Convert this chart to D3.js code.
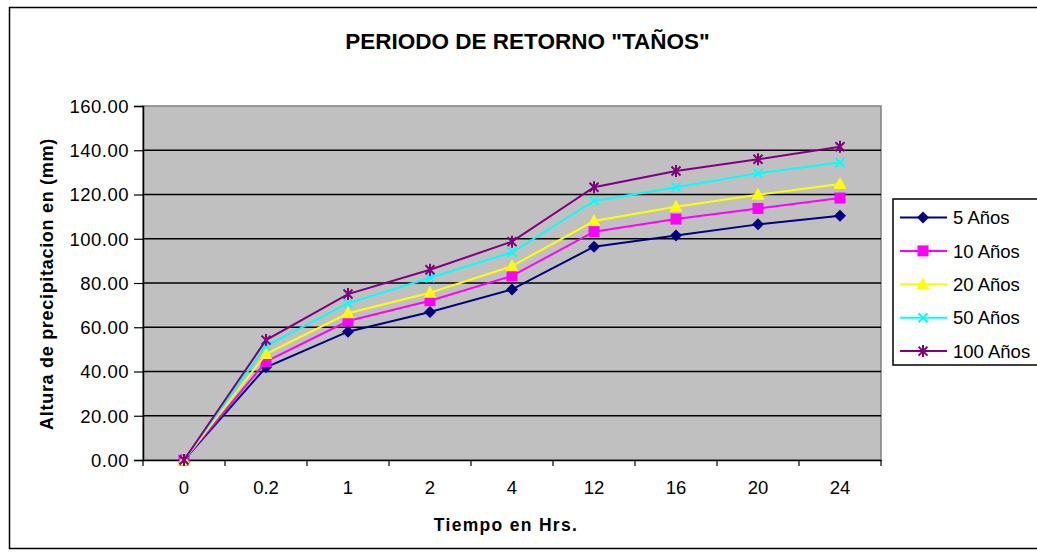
<!DOCTYPE html>
<html><head><meta charset="utf-8">
<script src="https://cdn.jsdelivr.net/npm/d3@7"></script>
<style>body{margin:0;background:#fff}svg{display:block}text{font-family:Arial,"Liberation Sans",sans-serif}</style>
</head><body><svg id="c" width="1037" height="556"></svg>
<script>
const categories = ["0","0.2","1","2","4","12","16","20","24"];
const seriesNames = ["5 Años","10 Años","20 Años","50 Años","100 Años"];
const s5   = [0, 41.9, 58.0, 66.9, 77.1, 96.4, 101.5, 106.5, 110.4];
const s10  = [0, 44.5, 62.8, 72.0, 83.2, 103.2, 108.9, 113.7, 118.4];
const s20  = [0, 47.9, 66.3, 75.6, 87.6, 108.0, 114.5, 119.9, 124.7];
const s50  = [0, 51.5, 70.8, 82.4, 93.9, 117.1, 123.3, 129.6, 134.5];
const s100 = [0, 54.2, 75.0, 86.0, 98.7, 123.3, 130.6, 135.9, 141.6];
const yTicks = [0,20,40,60,80,100,120,140,160];
const colors = ["#000080","#FF00FF","#FFFF00","#00FFFF","#800080"];
const shapes = ["diamond","square","triangle","x","star"];
const allSeries = [s5,s10,s20,s50,s100];

const svg = d3.select("#c");
const L=143, R=881, T=106, B=460;
const x = d3.scaleBand().domain(categories).range([L,R]);
const y = d3.scaleLinear().domain([0,160]).range([B,T]);

// outer frame
svg.append("rect").attr("x",9.5).attr("y",7.5).attr("width",1040).attr("height",541)
  .attr("fill","#fff").attr("stroke","#000").attr("stroke-width",1.5);

// plot area
svg.append("rect").attr("x",L).attr("y",T).attr("width",R-L).attr("height",B-T)
  .attr("fill","#C0C0C0").attr("stroke","#808080").attr("stroke-width",1.5);

// gridlines
svg.append("g").selectAll("line").data(yTicks.filter(d=>d>0&&d<160)).join("line")
  .attr("x1",L).attr("x2",R).attr("y1",d=>y(d)).attr("y2",d=>y(d))
  .attr("stroke","#000").attr("stroke-width",1.5);

// y axis
const yAxis = svg.append("g").attr("transform",`translate(${L},0)`)
  .call(d3.axisLeft(y).tickValues(yTicks).tickFormat(d3.format(".2f")).tickSize(9).tickPadding(5));
yAxis.select(".domain").attr("stroke","#000").attr("stroke-width",1.5);
yAxis.selectAll(".tick line").attr("stroke","#000").attr("stroke-width",1.2);
yAxis.selectAll("text").attr("font-size",18.5).attr("letter-spacing",0.5).attr("fill","#000").attr("dy","0.35em");

// x axis
const xAxis = svg.append("g").attr("transform",`translate(0,${B})`)
  .call(d3.axisBottom(x).tickSize(0).tickPadding(0));
xAxis.select(".domain").attr("stroke","#000").attr("stroke-width",1.5);
xAxis.selectAll("text").attr("font-size",18.5).attr("fill","#000").attr("dy",0).attr("y",34);
// x ticks at band boundaries
const bounds = categories.map(c=>x(c)).concat([R]);
svg.append("g").selectAll("line").data(bounds).join("line")
  .attr("x1",d=>d).attr("x2",d=>d).attr("y1",B).attr("y2",B+6)
  .attr("stroke","#000").attr("stroke-width",1.2);

// titles
svg.append("text").attr("x",527.5).attr("y",49).attr("text-anchor","middle")
  .attr("font-size",22.5).attr("font-weight","bold").text('PERIODO DE RETORNO "TAÑOS"');
svg.append("text").attr("x",506).attr("y",531).attr("text-anchor","middle")
  .attr("font-size",17.5).attr("font-weight","bold").attr("letter-spacing",1.3).text("Tiempo en Hrs.");
svg.append("text").attr("transform","translate(53,284) rotate(-90)").attr("text-anchor","middle")
  .attr("font-size",18).attr("font-weight","bold").attr("letter-spacing",0.7).text("Altura de precipitacion en (mm)");

function marker(g, shape, color, cx, cy){
  if(shape==="diamond"){
    g.append("path").attr("d",`M${cx},${cy-6}L${cx+6},${cy}L${cx},${cy+6}L${cx-6},${cy}Z`).attr("fill",color);
  } else if(shape==="square"){
    g.append("rect").attr("x",cx-5.5).attr("y",cy-5.5).attr("width",11).attr("height",11).attr("fill",color);
  } else if(shape==="triangle"){
    g.append("path").attr("d",`M${cx},${cy-7}L${cx+6.5},${cy+5}L${cx-6.5},${cy+5}Z`).attr("fill",color);
  } else if(shape==="x"){
    g.append("path").attr("d",`M${cx-4.5},${cy-4.5}L${cx+4.5},${cy+4.5}M${cx-4.5},${cy+4.5}L${cx+4.5},${cy-4.5}`)
      .attr("stroke",color).attr("stroke-width",2);
  } else if(shape==="star"){
    g.append("path").attr("d",`M${cx-4.5},${cy-4.5}L${cx+4.5},${cy+4.5}M${cx-4.5},${cy+4.5}L${cx+4.5},${cy-4.5}M${cx},${cy-6}L${cx},${cy+6}`)
      .attr("stroke",color).attr("stroke-width",2);
  }
}

const line = d3.line().x((d,i)=>x(categories[i])+x.bandwidth()/2).y(d=>y(d));
allSeries.forEach((s,k)=>{
  const g = svg.append("g");
  g.append("path").attr("d",line(s)).attr("fill","none").attr("stroke",colors[k]).attr("stroke-width",2);
  s.forEach((v,i)=>marker(g, shapes[k], colors[k], x(categories[i])+x.bandwidth()/2, y(v)));
});

// legend
const lg = svg.append("g");
lg.append("rect").attr("x",893).attr("y",199).attr("width",160).attr("height",166)
  .attr("fill","#fff").attr("stroke","#000").attr("stroke-width",1.5);
seriesNames.forEach((n,k)=>{
  const cy = 217.5 + k*33.4;
  lg.append("line").attr("x1",900).attr("x2",947).attr("y1",cy).attr("y2",cy)
    .attr("stroke",colors[k]).attr("stroke-width",2);
  marker(lg, shapes[k], colors[k], 923, cy);
  lg.append("text").attr("x",953).attr("y",cy).attr("dy","0.36em").attr("font-size",18.5).text(n);
});
</script></body></html>
